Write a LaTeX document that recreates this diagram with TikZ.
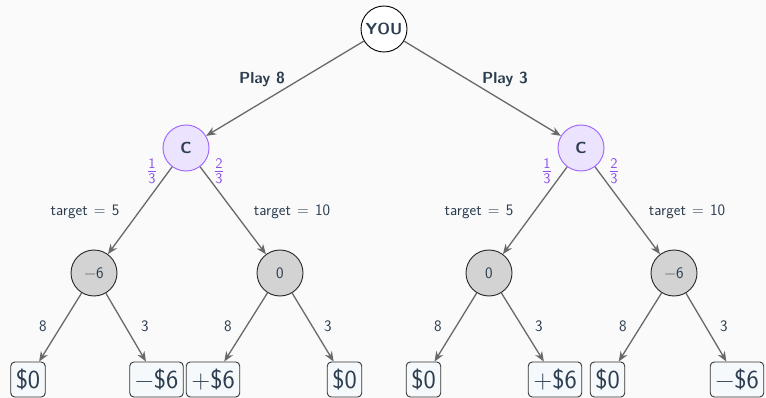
\RequirePackage{fix-cm}
\documentclass[tikz,border=0pt]{standalone}
\usepackage{fontspec}
\usepackage{amsmath}
\usetikzlibrary{arrows.meta}

\definecolor{bgc}{RGB}{250,250,250}
\definecolor{ink}{RGB}{44,62,80}
\definecolor{edgec}{RGB}{105,105,105}
\definecolor{chancefill}{RGB}{236,228,255}
\definecolor{chanceline}{RGB}{160,110,250}
\definecolor{probc}{RGB}{140,80,235}
\definecolor{statefill}{RGB}{211,211,211}
\definecolor{leaffill}{RGB}{246,249,251}

% slightly wider gap around the equals sign in the target labels
\newcommand{\eqsp}{\hspace{1.2pt}}

\tikzset{
  base/.style={font=\sffamily\fontsize{16}{19}\selectfont, text=ink},
  rootnode/.style={base, circle, draw=black, line width=0.9pt, fill=white,
    minimum size=46pt, inner sep=0pt, font=\sffamily\bfseries\fontsize{16}{19}\selectfont},
  chancenode/.style={base, circle, draw=chanceline, line width=1pt, fill=chancefill,
    minimum size=46pt, inner sep=0pt, font=\sffamily\bfseries\fontsize{16}{19}\selectfont},
  statenode/.style={base, circle, draw=black!85, line width=0.9pt, fill=statefill,
    minimum size=46pt, inner sep=0pt},
  leafnode/.style={base, rectangle, rounded corners=4pt, draw=black!80, line width=0.9pt,
    fill=leaffill, minimum height=35pt, inner xsep=5pt, inner ysep=0pt,
    font=\sffamily\fontsize{26}{30}\selectfont},
  edge/.style={draw=edgec, line width=1.3pt, -{Stealth[length=10pt,width=8pt]}},
  lbl/.style={base},
  blbl/.style={base, font=\sffamily\bfseries\fontsize{16}{19}\selectfont},
  prob/.style={base, text=probc, font=\sffamily\fontsize{21}{24}\selectfont},
}

\begin{document}
\begin{tikzpicture}[x=1pt,y=-1pt]
  \fill[bgc] (0,0) rectangle (766,398);
  \useasboundingbox (0,0) rectangle (766,398);

  % decision and chance nodes
  \node[rootnode] (you) at (384,29) {YOU};
  \node[chancenode] (cl) at (186,148) {C};
  \node[chancenode] (cr) at (581,148) {C};

  % states after the chance move
  \node[statenode] (s1) at (94,273) {−6};
  \node[statenode] (s2) at (280,273) {0};
  \node[statenode] (s3) at (489,273) {0};
  \node[statenode] (s4) at (674,273) {−6};

  % payoffs
  \node[leafnode] (l1) at (28,379.5) {\$0};
  \node[leafnode] (l2) at (156.5,379.5) {−\$6};
  \node[leafnode] (l3) at (213,379.5) {+\$6};
  \node[leafnode] (l4) at (344.5,379.5) {\$0};
  \node[leafnode] (l5) at (423.5,379.5) {\$0};
  \node[leafnode] (l6) at (555,379.5) {+\$6};
  \node[leafnode] (l7) at (607.5,379.5) {\$0};
  \node[leafnode] (l8) at (737,379.5) {−\$6};

  % connectors
  \draw[edge] (you) -- (cl);
  \draw[edge] (you) -- (cr);
  \draw[edge] (cl) -- (s1);
  \draw[edge] (cl) -- (s2);
  \draw[edge] (cr) -- (s3);
  \draw[edge] (cr) -- (s4);
  \draw[edge] (s1) -- (l1);
  \draw[edge] (s1) -- (l2);
  \draw[edge] (s2) -- (l3);
  \draw[edge] (s2) -- (l4);
  \draw[edge] (s3) -- (l5);
  \draw[edge] (s3) -- (l6);
  \draw[edge] (s4) -- (l7);
  \draw[edge] (s4) -- (l8);

  % labels
  \node[blbl] (p8) at (262,79) {Play 8};
  \node[blbl] (p3) at (505,79) {Play 3};

  \node[prob] (f1) at (152,171) {$\frac{\text{1}}{\text{3}}$};
  \node[prob] (f2) at (219,171) {$\frac{\text{2}}{\text{3}}$};
  \node[prob] (f3) at (547,171) {$\frac{\text{1}}{\text{3}}$};
  \node[prob] (f4) at (614,171) {$\frac{\text{2}}{\text{3}}$};

  \node[lbl] (t1) at (85,212) {target~\eqsp=~\eqsp5};
  \node[lbl] (t2) at (292,212) {target~\eqsp=~\eqsp10};
  \node[lbl] (t3) at (479,212) {target~\eqsp=~\eqsp5};
  \node[lbl] (t4) at (687,212) {target~\eqsp=~\eqsp10};

  \node[lbl] (n1) at (43,326) {8};
  \node[lbl] (n2) at (145,326) {3};
  \node[lbl] (n3) at (228,326) {8};
  \node[lbl] (n4) at (328,326) {3};
  \node[lbl] (n5) at (438,326) {8};
  \node[lbl] (n6) at (539,326) {3};
  \node[lbl] (n7) at (623,326) {8};
  \node[lbl] (n8) at (724,326) {3};
\end{tikzpicture}
\end{document}
